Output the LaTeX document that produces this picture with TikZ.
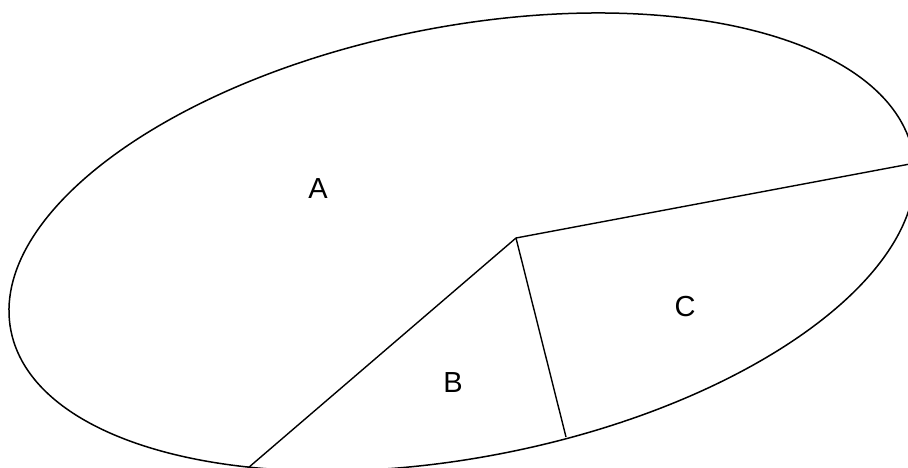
\documentclass[tikz,border=0pt]{standalone}
\usepackage{fontspec}
\setmainfont{Liberation Sans}
\tikzset{
  outline/.style={line width=1.5pt, black},
  divider/.style={line width=1.4pt, black},
  lbl/.style={font=\fontsize{29}{34}\selectfont, inner sep=0pt}
}
\begin{document}
\begin{tikzpicture}[x=1pt,y=1pt]
  \useasboundingbox (0,0) rectangle (908,468);
  \clip (0,0) rectangle (908,468);
  \fill[white] (0,0) rectangle (908,468);
  \coordinate (ec) at (462,226);
  \draw[outline, rotate around={11.11:(ec)}] (ec) ellipse [x radius=459.7, y radius=215.2];
  \coordinate (p) at (516,230);
  \coordinate (r) at (910,304);
  \coordinate (q) at (248,0);
  \coordinate (s) at (566,31);
  \draw[divider] (p) -- (r);
  \draw[divider] (p) -- (q);
  \draw[divider] (p) -- (s);
  \node[lbl] (la) at (318,279) {A};
  \node[lbl] (lb) at (453,85) {B};
  \node[lbl] (lc) at (685,161) {C};
\end{tikzpicture}
\end{document}
